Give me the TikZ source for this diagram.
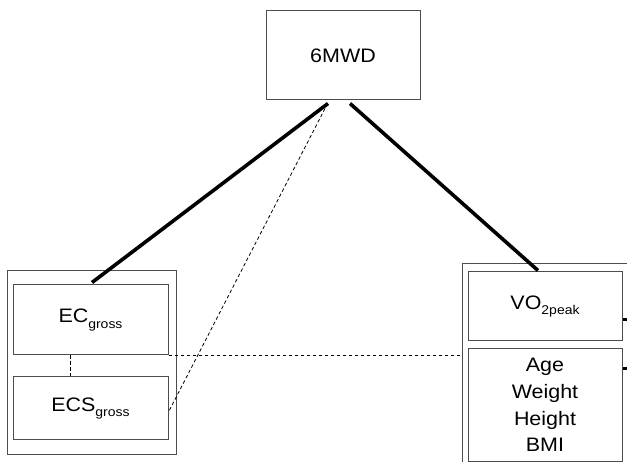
\documentclass[tikz,border=0pt]{standalone}
\usepackage{fontspec}
\setmainfont{Liberation Sans}[FakeStretch=1.1]
\usetikzlibrary{calc}
% lowered, smaller index text
\newcommand\lowsub[1]{\raisebox{-0.28em}{\fontsize{12.7}{14}\selectfont #1}}
\begin{document}
\begin{tikzpicture}[x=1pt,y=-1pt,
  box/.style={draw=black!70,line width=1pt,rectangle,inner sep=0pt,
              align=center,font=\fontsize{19.5}{26.7}\selectfont},
  strong/.style={line width=3.6pt},
  weak/.style={line width=0.8pt,dash pattern=on 3.5pt off 2.5pt},
  tick/.style={line width=3pt}]
\clip (0,0) rectangle (627,462);
\fill[white] (0,0) rectangle (627,462);

% outcome
\node[box,minimum width=154,minimum height=89] (mwd) at (343,55.5) {6MWD};

% left group: energy cost
\node[box,minimum width=169,minimum height=183] (grpL) at (91.5,362.5) {};
\node[box,minimum width=155,minimum height=70] (ec) at (90.5,320) {EC\lowsub{gross}};
\node[box,minimum width=155,minimum height=63] (ecs) at (90.5,408.5) {ECS\lowsub{gross}};

% right group: aerobic capacity and anthropometrics
\node[box,minimum width=238,minimum height=256] (grpR) at (581,392) {};
\node[box,minimum width=154,minimum height=69] (vo2) at (545,306.5) {VO\lowsub{2peak}};
\node[box,minimum width=154,minimum height=112] (age) at (545,405) {Age\\Weight\\Height\\BMI};

% links to the outcome
\draw[strong] ($(mwd.south)+(-15,3)$) -- ($(ec.north)+(1.5,-2)$);
\draw[strong] ($(mwd.south)+(7,3)$) -- ($(vo2.north)+(-7,-1)$);
\draw[weak] ($(mwd.south)+(-18,8)$) -- ($(ecs.east)+(0,3.5)$);

% links between predictors
\draw[weak] (ec.south east) -- (ec.south east -| grpR.west);
\draw[weak] ($(ec.south)+(-20.5,0)$) -- ($(ecs.north)+(-20.5,0)$);

% stubs leaving the right group
\draw[tick] ($(vo2.east)+(0,13.5)$) -- ++(6,0);
\draw[tick] ($(age.east)+(0,-36)$) -- ++(6,0);
\end{tikzpicture}
\end{document}
